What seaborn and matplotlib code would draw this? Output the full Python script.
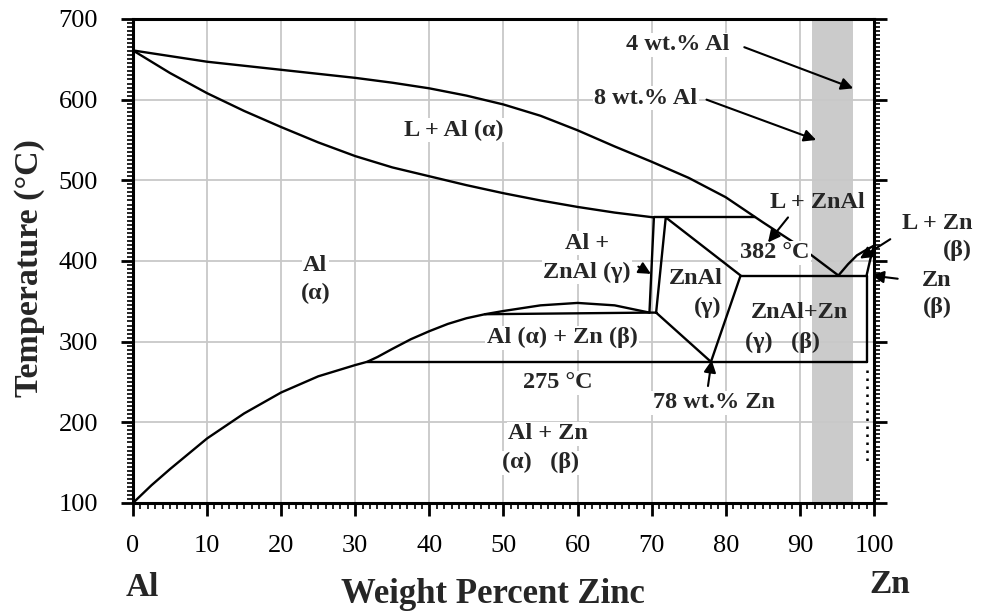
import numpy as np
import pandas as pd
import matplotlib
matplotlib.use("Agg")
import matplotlib.pyplot as plt
from matplotlib.ticker import MultipleLocator
import seaborn as sns

# ---- phase boundaries of the Al-Zn system (wt.% Zn, temperature in degC) ----
liquidus_al_x = [0, 5, 10, 15, 20, 25, 30, 35, 40, 45, 50, 55, 60, 65, 70, 75, 80, 85, 90, 95.2]
liquidus_al_t = [661, 654, 647, 642, 637, 632, 627, 621, 614, 605, 594, 580, 562, 542, 523, 503,
                 479, 448, 418, 382]

solidus_al_x = [0, 5, 10, 15, 20, 25, 30, 35, 40, 45, 50, 55, 60, 65, 70.3]
solidus_al_t = [661, 633, 608, 586, 566, 547, 530, 516, 505, 494, 484, 475, 467, 460, 454]

solvus_x = [0, 2.5, 5, 10, 15, 20, 25, 30, 31.6, 33, 35, 37.5, 40, 42.5, 45, 47.5, 50, 55, 60,
            65, 69.7]
solvus_t = [100, 122, 142, 180, 211, 237, 257, 271, 275, 281, 291, 303, 313, 322, 329, 334, 338,
            345, 348, 345, 336]

gap_chord_x = [47.5, 69.7]
gap_chord_t = [334, 336]

peritectic_x = [70.3, 84]
peritectic_t = [454, 454]

alpha_gamma_left_x = [70.3, 69.7, 70.6]
alpha_gamma_left_t = [454, 336, 336]

znal_x = [70.6, 71.9, 82, 78, 70.6]
znal_t = [336, 454, 382, 275, 336]

eutectic_x = [82, 99]
eutectic_t = [382, 382]

monotectoid_x = [31.6, 99]
monotectoid_t = [275, 275]

zn_solvus_x = [99, 99]
zn_solvus_t = [382, 275]

zn_dotted_x = [99, 99]
zn_dotted_t = [265, 150]

liquidus_zn_x = [95.2, 96.5, 97.7, 98.8, 100]
liquidus_zn_t = [382, 396, 407, 413, 419]

solidus_zn_x = [99, 99.5, 100]
solidus_zn_t = [382, 402, 419]

# galvanizing composition window (wt.% Zn)
band_x = [91.7, 97.2]

x_ticks = list(range(0, 101, 10))
y_ticks = list(range(100, 701, 100))

segments = {
    "liquidus_al": (liquidus_al_x, liquidus_al_t),
    "solidus_al": (solidus_al_x, solidus_al_t),
    "solvus": (solvus_x, solvus_t),
    "gap_chord": (gap_chord_x, gap_chord_t),
    "peritectic": (peritectic_x, peritectic_t),
    "alpha_gamma": (alpha_gamma_left_x, alpha_gamma_left_t),
    "znal": (znal_x, znal_t),
    "eutectic": (eutectic_x, eutectic_t),
    "monotectoid": (monotectoid_x, monotectoid_t),
    "zn_solvus": (zn_solvus_x, zn_solvus_t),
    "liquidus_zn": (liquidus_zn_x, liquidus_zn_t),
    "solidus_zn": (solidus_zn_x, solidus_zn_t),
}
frames = [pd.DataFrame({"wt": xs, "T": ts, "segment": name})
          for name, (xs, ts) in segments.items()]
lines = pd.concat(frames, ignore_index=True)
dotted = pd.DataFrame({"wt": zn_dotted_x, "T": zn_dotted_t})

sns.set_theme(style="ticks")
plt.rcParams["font.family"] = ["Liberation Serif", "DejaVu Serif"]

fig = plt.figure(figsize=(9.82, 6.14), dpi=100)
ax = fig.add_axes([0.1354, 0.1808, 0.7546, 0.7883])

ax.axvspan(band_x[0], band_x[1], color="#cbcbcb", zorder=0.3, lw=0)
ax.set_axisbelow(True)
ax.grid(True, which="major", color="#c8c8c8", lw=1.3)

sns.lineplot(data=lines, x="wt", y="T", units="segment", estimator=None, sort=False,
             color="black", lw=1.7, ax=ax, legend=False, zorder=3)
sns.lineplot(data=dotted, x="wt", y="T", estimator=None, sort=False,
             color="black", lw=1.8, ax=ax, legend=False, zorder=3,
             linestyle=(0, (1, 2.2)))

ax.set_xlim(0, 100)
ax.set_ylim(100, 700)
ax.set_xticks(x_ticks)
ax.set_yticks(y_ticks)
ax.xaxis.set_minor_locator(MultipleLocator(1))
ax.yaxis.set_minor_locator(MultipleLocator(5))
ax.tick_params(axis="both", which="major", direction="out", length=9, width=2,
               labelsize=19, colors="black")
ax.tick_params(axis="both", which="minor", direction="out", length=4.5, width=1.4)
ax.tick_params(axis="x", which="both", top=False, pad=14)
ax.tick_params(axis="y", which="both", right=True, pad=16)
for side in ["left", "bottom", "right", "top"]:
    ax.spines[side].set_visible(True)
    ax.spines[side].set_linewidth(2.2)
    ax.spines[side].set_color("black")

ax.set_xlabel("Weight Percent Zinc", fontsize=25, fontweight="bold", va="center")
ax.xaxis.set_label_coords(0.486, -0.19)
ax.set_ylabel("Temperature (°C)", fontsize=24.5, fontweight="bold", va="center")
ax.yaxis.set_label_coords(-0.139, 0.4855)
ax.text(0.012, -0.174, "Al", transform=ax.transAxes, fontsize=24, fontweight="bold",
        ha="center", va="center")
ax.text(1.0216, -0.169, "Zn", transform=ax.transAxes, fontsize=24, fontweight="bold",
        ha="center", va="center")

white = dict(facecolor="white", edgecolor="none", pad=1.0)
label_kw = dict(fontsize=17.5, fontweight="bold", ha="center", va="center", zorder=4)


def label(x, t, s, box=True, **kw):
    opts = dict(label_kw)
    opts.update(kw)
    ax.text(x, t, s, bbox=white if box else None, clip_on=False, **opts)


def arrow(x0, t0, x1, t1):
    ax.annotate("", xy=(x1, t1), xytext=(x0, t0), zorder=5, annotation_clip=False,
                arrowprops=dict(arrowstyle="-|>", color="black", lw=1.5,
                                mutation_scale=18, shrinkA=0, shrinkB=0))


label(73.5, 668, "4 wt.% Al")
arrow(82.5, 665, 97.2, 614)
label(69.2, 602, "8 wt.% Al")
arrow(77.4, 600, 92.2, 550)
label(43.3, 562, "L + Al (α)")
label(92.3, 473, "L + ZnAl", box=False)
arrow(88.4, 454, 85.7, 423)
label(86.6, 410, "382 °C")
label(24.6, 394, "Al")
label(24.6, 360, "(α)")
label(61.3, 422, "Al +")
label(61.3, 386, "ZnAl (γ)")
arrow(68.2, 393, 69.9, 384)
label(76.0, 378, "ZnAl", box=False)
label(77.6, 342, "(γ)", box=False)
label(89.9, 336, "ZnAl+Zn", box=False)
label(87.7, 299, "(γ)   (β)", box=False)
label(57.9, 305, "Al (α) + Zn (β)")
label(57.4, 249, "275 °C")
label(56.0, 186, "Al + Zn")
label(55.0, 150, "(α)   (β)")
label(78.4, 224, "78 wt.% Zn")
arrow(77.6, 245, 78.1, 277)
label(108.6, 446, "L + Zn", box=False)
label(111.2, 413, "(β)", box=False)
arrow(102.2, 427, 98.1, 403)
label(108.5, 376, "Zn", box=False)
label(108.5, 342, "(β)", box=False)
arrow(103.2, 378, 99.7, 382)

fig.savefig("out.png", dpi=100, facecolor="white")
